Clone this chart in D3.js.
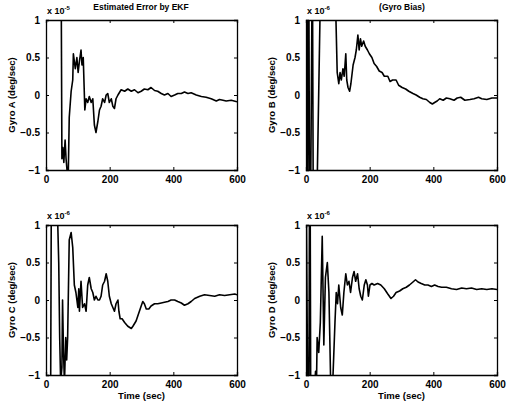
<!DOCTYPE html>
<html><head><meta charset="utf-8">
<script src="https://cdn.jsdelivr.net/npm/d3@7"></script>
<style>
html,body{margin:0;padding:0;background:#fff;}
svg text{font-family:"Liberation Sans",Arial,sans-serif;font-weight:bold;fill:#000;}
</style></head><body>
<div id="chart"></div>
<script>
// Values in units of 1e-6 deg/sec (axis multiplier shown as "x 10^-n")
const xTicks = [0, 200, 400, 600];
const yTicks = [-1, -0.5, 0, 0.5, 1];

const timeA = [0,45,48,50,53,56,60,63,66,68,70,73,79,84,86,92,97,101,105,110,113,117,122,126,131,136,142,147,152,157,163,168,173,178,184,189,194,199,205,210,215,220,226,236,247,257,268,278,289,299,309,320,330,341,351,362,372,383,393,404,414,425,435,446,456,472,488,503,519,535,545,556,566,582,600];
const gyroA = [4,3,1.2,-0.85,-0.7,-0.9,-0.6,-0.85,-1.0,-1.1,-1.05,-0.3,0.05,0.2,0.55,0.35,0.5,0.3,0.45,0.6,0.4,0.5,-0.2,-0.05,-0.1,-0.02,-0.1,-0.05,-0.4,-0.5,-0.35,-0.2,-0.15,-0.05,-0.1,0.0,0.02,-0.1,-0.05,-0.15,-0.18,-0.05,0.0,0.07,0.05,0.08,0.05,0.07,0.03,0.05,0.08,0.07,0.1,0.06,0.05,0.02,0.0,0.02,-0.02,0.0,0.02,0.02,0.04,0.02,0.03,0.0,-0.02,-0.03,-0.05,-0.08,-0.06,-0.07,-0.08,-0.07,-0.09];

const timeB = [0,2,4,8,12,20,24,30,35,45,60,75,93,98,103,107,111,116,120,125,128,132,137,141,148,154,158,163,167,171,175,181,186,193,199,207,214,222,230,239,246,257,264,272,283,291,302,313,323,336,346,357,367,378,389,397,404,412,420,431,441,452,465,475,486,499,515,528,542,552,568,584,600];
const gyroB = [3,3,-3,3,-3,2,-3,-4,-1.2,1.3,2,1.5,1.2,0.3,0.15,0.3,0.2,0.35,0.25,0.55,0.2,0.1,0.05,0.15,0.4,0.5,0.6,0.8,0.6,0.75,0.65,0.72,0.65,0.6,0.55,0.5,0.42,0.38,0.32,0.3,0.25,0.25,0.18,0.2,0.2,0.13,0.1,0.08,0.05,0.02,0.0,-0.03,-0.05,-0.06,-0.1,-0.12,-0.1,-0.08,-0.05,-0.07,-0.04,-0.05,-0.07,-0.04,-0.03,-0.07,-0.06,-0.05,-0.03,-0.05,-0.06,-0.04,-0.04];

const timeC = [0,14,18,30,33,37,40,43,46,50,52,55,58,62,65,68,73,79,84,89,94,100,103,105,110,115,121,126,131,136,142,147,152,157,163,168,173,178,184,189,194,199,205,210,215,220,226,229,233,239,247,257,268,273,283,291,299,304,309,315,323,330,341,351,362,372,383,393,404,414,425,435,446,456,467,483,498,514,530,545,561,577,593,600];
const gyroC = [-3,-2,3,2,1.2,1.0,0.5,-0.5,-1.1,-0.9,0.0,-0.7,-1.1,-0.5,-0.8,-0.5,0.8,0.9,0.7,0.2,0.1,-0.1,0.15,-0.15,0.25,-0.1,-0.05,-0.15,0.2,0.3,0.15,0.1,0.0,0.05,0.0,0.0,0.05,0.2,0.25,0.35,0.25,0.05,-0.05,-0.1,-0.15,-0.05,0.0,-0.15,-0.25,-0.25,-0.3,-0.35,-0.38,-0.35,-0.28,-0.18,-0.08,-0.02,-0.05,-0.12,-0.12,-0.08,-0.05,-0.05,-0.04,-0.03,-0.02,0.0,0.0,-0.02,-0.04,-0.07,-0.05,-0.02,0.02,0.05,0.07,0.06,0.05,0.07,0.06,0.07,0.08,0.07];

const timeD = [0,8,12,16,25,30,33,35,40,45,51,56,61,67,72,77,84,91,95,99,103,109,114,119,125,130,135,140,146,151,156,162,167,172,177,183,188,193,196,201,207,214,225,235,246,257,267,275,283,294,304,315,325,336,344,352,362,373,383,394,404,415,426,441,457,473,489,504,520,536,552,568,584,600];
const gyroD = [2,-3,3,-3,-1.3,-0.95,-1.1,-0.5,-0.7,-0.3,0.85,-0.6,0.3,0.5,0.1,-1.0,-1.1,-0.3,0.1,-0.05,0.2,-0.1,-0.2,0.1,0.35,0.2,0.25,0.1,0.3,0.38,0.25,0.35,0.15,0.05,0.0,0.2,0.27,0.2,0.05,0.2,0.22,0.2,0.22,0.2,0.15,0.08,0.02,0.05,0.1,0.12,0.15,0.17,0.2,0.24,0.27,0.24,0.22,0.2,0.2,0.18,0.2,0.18,0.17,0.17,0.15,0.14,0.16,0.15,0.16,0.14,0.15,0.14,0.15,0.14];

const panels = [
  {t: timeA, v: gyroA, x0: 46, y0: 20, ylab: "Gyro A (deg/sec)", exp: "-5", xlab: false},
  {t: timeB, v: gyroB, x0: 306, y0: 20, ylab: "Gyro B (deg/sec)", exp: "-6", xlab: false},
  {t: timeC, v: gyroC, x0: 46, y0: 225, ylab: "Gyro C (deg/sec)", exp: "-6", xlab: true},
  {t: timeD, v: gyroD, x0: 306, y0: 225, ylab: "Gyro D (deg/sec)", exp: "-6", xlab: true}
];
const W = 191, H = 150;

const svg = d3.select("#chart").append("svg").attr("width", 512).attr("height", 403);
svg.append("rect").attr("width", 512).attr("height", 403).attr("fill", "#fff");

svg.append("text").attr("x", 141).attr("y", 10).attr("text-anchor", "middle")
  .attr("font-size", 8.5).text("Estimated Error by EKF");
svg.append("text").attr("x", 402).attr("y", 10).attr("text-anchor", "middle")
  .attr("font-size", 8.5).text("(Gyro Bias)");

panels.forEach((p, i) => {
  const x = d3.scaleLinear().domain([0, 600]).range([0, W]);
  const y = d3.scaleLinear().domain([-1, 1]).range([H, 0]);
  const g = svg.append("g").attr("transform", `translate(${p.x0},${p.y0})`);
  g.append("clipPath").attr("id", "clip" + i).append("rect").attr("width", W).attr("height", H);

  const data = p.t.map((t, k) => [t, p.v[k]]);
  const line = d3.line().x(d => x(d[0])).y(d => y(d[1]));
  g.append("path").datum(data).attr("d", line).attr("fill", "none")
    .attr("stroke", "#000").attr("stroke-width", 1.6).attr("stroke-linejoin", "round")
    .attr("clip-path", `url(#clip${i})`);

  const ax = g.append("g").attr("transform", `translate(0,${H})`)
    .call(d3.axisBottom(x).tickValues(xTicks).tickSize(-3).tickPadding(6).tickFormat(d3.format("d")));
  const axT = g.append("g").call(d3.axisTop(x).tickValues(xTicks).tickSize(-3).tickFormat(""));
  const ay = g.append("g").call(d3.axisLeft(y).tickValues(yTicks).tickSize(-3).tickPadding(6).tickFormat(d => d3.format("")(d)));
  const ayR = g.append("g").attr("transform", `translate(${W},0)`)
    .call(d3.axisRight(y).tickValues(yTicks).tickSize(-3).tickFormat(""));
  [ax, axT, ay, ayR].forEach(a => {
    a.select(".domain").attr("stroke", "#000").attr("stroke-width", 1.3);
    a.selectAll(".tick line").attr("stroke", "#000");
    a.selectAll("text").attr("font-size", 10).attr("font-weight", "bold")
      .attr("font-family", "'Liberation Sans',Arial,sans-serif");
  });

  const ex = g.append("text").attr("x", 1).attr("y", -6).attr("font-size", 9);
  ex.append("tspan").text("x 10");
  ex.append("tspan").attr("dy", -4).attr("font-size", 6).text(p.exp);

  g.append("text").attr("transform", `translate(-31,${H/2}) rotate(-90)`)
    .attr("text-anchor", "middle").attr("font-size", 9.5).text(p.ylab);

  if (p.xlab) {
    g.append("text").attr("x", W/2).attr("y", H + 24).attr("text-anchor", "middle")
      .attr("font-size", 9.5).text("Time (sec)");
  }
});
</script>
</body></html>
